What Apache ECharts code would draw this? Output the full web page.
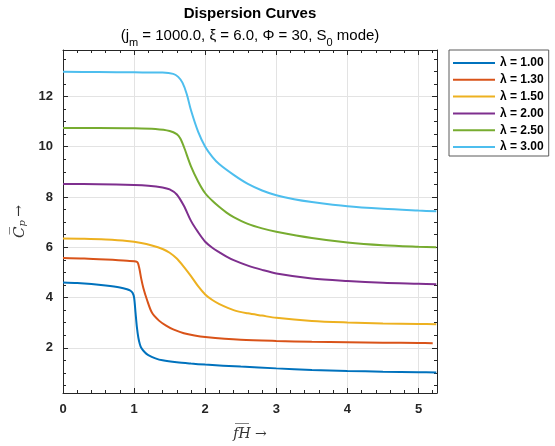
<!DOCTYPE html>
<html><head><meta charset="utf-8">
<script src="https://cdn.jsdelivr.net/npm/echarts@6/dist/echarts.min.js"></script>
<style>html,body{margin:0;padding:0;background:#fff}#c{width:555px;height:446px}</style>
</head><body><div id="c"></div>
<script>
// ---- data ----
const seriesNames = ['λ = 1.00', 'λ = 1.30', 'λ = 1.50', 'λ = 2.00', 'λ = 2.50', 'λ = 3.00'];
const colors = ['#0072BD', '#D95319', '#EDB120', '#7E2F8E', '#77AC30', '#4DBEEE'];

const fh1 = [0, 0.2, 0.4, 0.6, 0.8, 0.9, 0.95, 0.98, 1.0, 1.02, 1.04, 1.06, 1.08, 1.1, 1.15, 1.2, 1.3, 1.4, 1.6, 1.8, 2.0, 2.5, 3.0, 3.5, 4.0, 4.5, 5.0, 5.25];
const cp1 = [4.6, 4.58, 4.54, 4.48, 4.4, 4.33, 4.27, 4.18, 4.0, 3.4, 2.8, 2.4, 2.15, 2.0, 1.82, 1.71, 1.58, 1.5, 1.42, 1.37, 1.33, 1.25, 1.18, 1.12, 1.08, 1.05, 1.03, 1.02];

const fh2 = [0, 0.3, 0.6, 0.9, 1.04, 1.07, 1.1, 1.13, 1.18, 1.25, 1.35, 1.45, 1.55, 1.7, 1.85, 2.0, 2.5, 3.0, 3.5, 4.0, 4.5, 5.0, 5.2];
const cp2 = [5.57, 5.55, 5.51, 5.46, 5.42, 5.2, 4.75, 4.38, 3.92, 3.4, 3.08, 2.88, 2.73, 2.58, 2.49, 2.43, 2.32, 2.27, 2.24, 2.22, 2.2, 2.19, 2.18];

const fh3 = [0, 0.3, 0.6, 0.9, 1.1, 1.25, 1.4, 1.5, 1.6, 1.7, 1.8, 1.9, 2.0, 2.1, 2.2, 2.4, 2.6, 2.8, 3.0, 3.5, 4.0, 4.5, 5.0, 5.25];
const cp3 = [6.35, 6.34, 6.31, 6.25, 6.17, 6.07, 5.93, 5.78, 5.55, 5.22, 4.85, 4.45, 4.12, 3.9, 3.74, 3.5, 3.37, 3.28, 3.19, 3.07, 3.01, 2.97, 2.95, 2.94];

const fh4 = [0, 0.5, 1.0, 1.2, 1.4, 1.5, 1.6, 1.7, 1.8, 1.9, 2.0, 2.1, 2.2, 2.3, 2.4, 2.6, 2.8, 3.0, 3.5, 4.0, 4.5, 5.0, 5.25];
const cp4 = [8.52, 8.51, 8.48, 8.45, 8.38, 8.3, 8.1, 7.65, 7.05, 6.6, 6.22, 5.98, 5.8, 5.63, 5.49, 5.27, 5.1, 4.96, 4.76, 4.66, 4.59, 4.55, 4.53];

const fh5 = [0, 0.5, 1.0, 1.3, 1.5, 1.6, 1.65, 1.7, 1.8, 1.9, 2.0, 2.1, 2.2, 2.3, 2.4, 2.6, 2.8, 3.0, 3.5, 4.0, 4.5, 5.0, 5.25];
const cp5 = [10.75, 10.75, 10.74, 10.71, 10.63, 10.5, 10.33, 10.0, 9.22, 8.62, 8.15, 7.85, 7.6, 7.38, 7.2, 6.93, 6.75, 6.62, 6.37, 6.19, 6.08, 6.02, 6.0];

const fh6 = [0, 0.5, 1.0, 1.4, 1.55, 1.62, 1.68, 1.74, 1.8, 1.9, 2.0, 2.1, 2.2, 2.4, 2.6, 2.8, 3.0, 3.25, 3.5, 4.0, 4.5, 5.0, 5.25];
const cp6 = [12.98, 12.97, 12.96, 12.95, 12.9, 12.78, 12.55, 12.1, 11.45, 10.6, 10.0, 9.6, 9.3, 8.88, 8.52, 8.26, 8.07, 7.91, 7.8, 7.63, 7.53, 7.46, 7.43];

const xMajorTicks = [0, 1, 2, 3, 4, 5];
const xMinorTicks = [0.2, 0.4, 0.6, 0.8, 1.2, 1.4, 1.6, 1.8, 2.2, 2.4, 2.6, 2.8, 3.2, 3.4, 3.6, 3.8, 4.2, 4.4, 4.6, 4.8, 5.2];
const yMajorTicks = [2, 4, 6, 8, 10, 12];
const yMinorTicks = [0.5, 1, 1.5, 2.5, 3, 3.5, 4.5, 5, 5.5, 6.5, 7, 7.5, 8.5, 9, 9.5, 10.5, 11, 11.5, 12.5, 13, 13.5];
const xRange = [0, 5.26];
const yRange = [0.2, 13.85];

// ---- chart ----
const fhList = [fh1, fh2, fh3, fh4, fh5, fh6];
const cpList = [cp1, cp2, cp3, cp4, cp5, cp6];
const axisColor = '#262626';
const gridColor = '#e3e3e3';

function xAx(pos, ticks, len, main) {
  return {
    type: 'value', position: pos, min: xRange[0], max: xRange[1],
    axisLine: { show: main, onZero: false, lineStyle: { color: axisColor, width: 1 } },
    axisTick: { show: true, inside: true, length: len, customValues: ticks, lineStyle: { color: axisColor, width: 1 } },
    axisLabel: { show: false },
    splitLine: { show: false }
  };
}
function yAx(pos, ticks, len, main) {
  return {
    type: 'value', position: pos, min: yRange[0], max: yRange[1],
    axisLine: { show: main, onZero: false, lineStyle: { color: axisColor, width: 1 } },
    axisTick: { show: true, inside: true, length: len, customValues: ticks, lineStyle: { color: axisColor, width: 1 } },
    axisLabel: { show: false },
    splitLine: { show: false }
  };
}

const xMain = xAx('bottom', xMajorTicks, 5, true);
xMain.axisLabel = { show: true, customValues: xMajorTicks, color: axisColor, fontSize: 13, fontWeight: 'bold', fontFamily: 'Liberation Sans, Arial', margin: 10 };
xMain.splitLine = { show: true, lineStyle: { color: gridColor, width: 1 } };
xMain.name = 'f\u0305H\u0305 \u2192';
xMain.nameLocation = 'middle';
xMain.nameGap = 34;
xMain.nameTextStyle = { fontFamily: 'DejaVu Serif', fontStyle: 'italic', fontSize: 14, color: '#333' };

const yMain = yAx('left', yMajorTicks, 5, true);
yMain.axisLabel = { show: true, customValues: yMajorTicks, color: axisColor, fontSize: 13, fontWeight: 'bold', fontFamily: 'Liberation Sans, Arial', margin: 10 };
yMain.splitLine = { show: true, lineStyle: { color: gridColor, width: 1 } };
yMain.name = '{c|C\u0305}{p|p} {a|\u2192}';
yMain.nameLocation = 'middle';
yMain.nameGap = 31;
yMain.nameRotate = 90;
yMain.nameTextStyle = {
  color: '#333',
  rich: {
    c: { fontFamily: 'DejaVu Serif', fontStyle: 'italic', fontSize: 15, color: '#333' },
    p: { fontFamily: 'DejaVu Serif', fontStyle: 'italic', fontSize: 10, color: '#333', padding: [6, 0, 0, 0] },
    a: { fontFamily: 'DejaVu Serif', fontSize: 14, color: '#333' }
  }
};

const xAxes = [xMain, xAx('bottom', xMinorTicks, 3, false), xAx('top', xMajorTicks, 5, true), xAx('top', xMinorTicks, 3, false)];
const yAxes = [yMain, yAx('left', yMinorTicks, 3, false), yAx('right', yMajorTicks, 5, true), yAx('right', yMinorTicks, 3, false)];

const series = seriesNames.map((name, i) => ({
  name: name,
  type: 'line',
  xAxisIndex: 0, yAxisIndex: 0,
  data: fhList[i].map((v, k) => [v, cpList[i][k]]),
  showSymbol: false, symbol: 'none',
  smooth: 0.3,
  lineStyle: { color: colors[i], width: 2 },
  itemStyle: { color: colors[i] },
  z: 5
}));

const chart = echarts.init(document.getElementById('c'), null, { renderer: 'canvas' });
chart.setOption({
  animation: false,
  backgroundColor: '#fff',
  title: [
    { text: 'Dispersion Curves', left: 245, top: 1, textAlign: 'center',
      textStyle: { fontFamily: 'Liberation Sans, Arial', fontSize: 15, fontWeight: 'bold', color: '#000' } },
    { text: '(j{s|m} = 1000.0, ξ = 6.0, Φ = 30, S{s|0} mode)', left: 245, top: 19, textAlign: 'center',
      textStyle: { fontFamily: 'Liberation Sans, Arial', fontSize: 15, fontWeight: 'normal', color: '#000',
        rich: {
          s: { fontFamily: 'Liberation Sans, Arial', fontSize: 11, color: '#000', padding: [13, 0, 0, 0] }
        } } }
  ],
  grid: { left: 63, top: 50, right: 118, bottom: 50, containLabel: false },
  legend: {
    orient: 'vertical', left: 449, top: 50,
    padding: [6, 5, 2, 4],
    icon: 'rect',
    itemWidth: 42, itemHeight: 2, itemGap: 2.8,
    borderColor: '#5a5a5a', borderWidth: 1, backgroundColor: '#fff',
    textStyle: { fontFamily: 'Liberation Sans, Arial', fontSize: 12, lineHeight: 14, fontWeight: 'bold', color: '#000' },
    data: seriesNames
  },
  xAxis: xAxes,
  yAxis: yAxes,
  series: series
});
</script>
</body></html>
